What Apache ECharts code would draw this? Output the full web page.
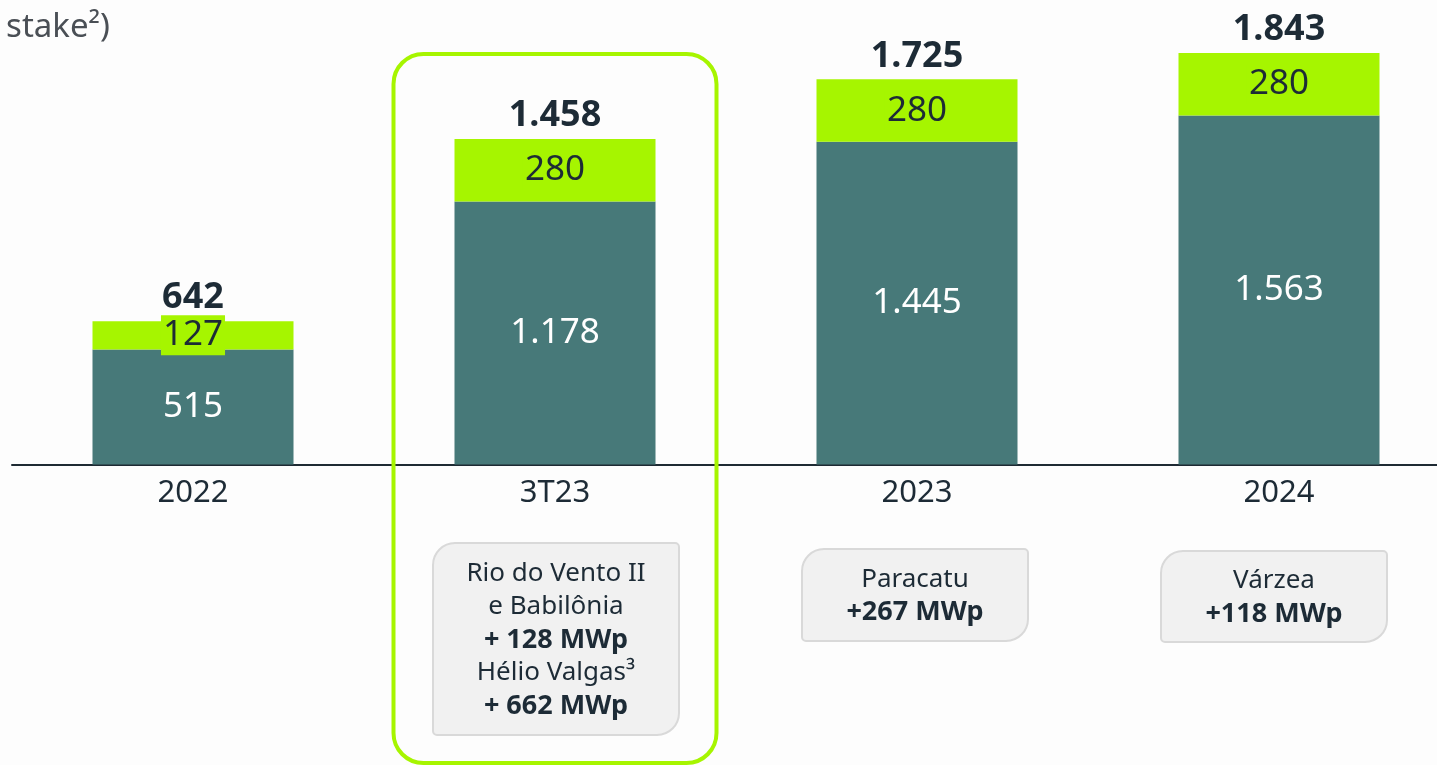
<!DOCTYPE html>
<html>
<head>
<meta charset="utf-8">
<script src="https://cdn.jsdelivr.net/npm/echarts@6/dist/echarts.min.js"></script>
<style>
html,body{margin:0;padding:0;background:#fdfdfd;}
#c{width:1437px;height:765px;}
</style>
</head>
<body>
<div id="c"></div>
<script>
// ---- data ----
const categories = ['2022', '3T23', '2023', '2024'];
const ownedValues = [515, 1178, 1445, 1563];
const stakeValues = [127, 280, 280, 280];
const annotationTitles = [null, ['Rio do Vento II', 'e Babilônia'], ['Paracatu'], ['Várzea']];
const annotationGains = [null, ['+ 128 MWp', 'Hélio Valgas³', '+ 662 MWp'], ['+267 MWp'], ['+118 MWp']];
const subtitle = '(MW proporcional ao stake²)';

const totals = ownedValues.map((v, i) => v + stakeValues[i]);
const fmt = v => String(v).replace(/\B(?=(\d{3})+(?!\d))/g, '.');

const TEAL = '#477979';
const LIME = '#a6f500';
const DARK = '#1d2b36';
const FONT = '"Noto Sans", sans-serif';

const chart = echarts.init(document.getElementById('c'), null, {renderer: 'canvas'});
chart.setOption({
  backgroundColor: '#fdfdfd',
  animation: false,
  textStyle: {fontFamily: FONT},
  grid: {left: 12, width: 1448, top: 0, height: 464.5, containLabel: false, outerBoundsMode: 'none'},
  xAxis: {
    type: 'category',
    data: categories,
    axisLine: {lineStyle: {color: '#1e2a33', width: 2}},
    axisTick: {show: false},
    axisLabel: {fontSize: 31, color: DARK, margin: 13, fontFamily: FONT}
  },
  yAxis: {type: 'value', min: 0, max: 2080, show: false, splitLine: {show: false}},
  series: [
    {
      type: 'bar', stack: 'a', barWidth: 201, data: ownedValues,
      itemStyle: {color: TEAL},
      label: {show: true, position: 'inside', color: '#ffffff', fontSize: 35, fontFamily: FONT,
        formatter: p => fmt(p.value)}
    },
    {
      type: 'bar', stack: 'a', barWidth: 201, data: stakeValues,
      itemStyle: {color: LIME},
      label: {show: true, position: 'inside', color: DARK, fontSize: 35, fontFamily: FONT,
        backgroundColor: LIME, padding: [2, 2], lineHeight: 36,
        formatter: p => fmt(p.value)}
    },
    {
      type: 'scatter', data: totals, symbolSize: 0, z: 5,
      itemStyle: {opacity: 1},
      label: {show: true, position: 'top', distance: 5, color: DARK, fontSize: 36, fontWeight: 'bold', fontFamily: FONT,
        opacity: 1, formatter: p => fmt(p.value)}
    }
  ]
});

// ---- decorations positioned from the axis scale ----
const cx = i => chart.convertToPixel({xAxisIndex: 0}, categories[i]);
const graphics = [];
graphics.push({
  type: 'text', x: 110, y: 28, z: 10,
  style: {text: subtitle, align: 'right', verticalAlign: 'middle', fontSize: 33, fontFamily: FONT, fill: '#4a4f55'}
});
// highlight frame around 3T23
graphics.push({
  type: 'rect', z: 1,
  shape: {x: cx(1) - 161.5, y: 54, width: 323, height: 709, r: 30},
  style: {fill: 'none', stroke: LIME, lineWidth: 4}
});
const boxSpecs = [null, {w: 246, top: 543, h: 192, dx: 1}, {w: 226, top: 549, h: 92, dx: -2}, {w: 226, top: 551, h: 91, dx: -5}];
for (let i = 0; i < categories.length; i++) {
  if (!annotationTitles[i]) continue;
  const s = boxSpecs[i];
  const c = cx(i) + s.dx;
  graphics.push({
    type: 'rect', z: 2,
    shape: {x: c - s.w / 2, y: s.top, width: s.w, height: s.h, r: [22, 4, 22, 4]},
    style: {fill: '#f1f1f1', stroke: '#d9d9d9', lineWidth: 2}
  });
  let lines;
  if (i === 1) {
    lines = ['{n|' + annotationTitles[i][0] + '}', '{n|' + annotationTitles[i][1] + '}',
      '{b|' + annotationGains[i][0] + '}', '{n|' + annotationGains[i][1] + '}', '{b|' + annotationGains[i][2] + '}'];
  } else {
    lines = ['{n|' + annotationTitles[i][0] + '}', '{b|' + annotationGains[i][0] + '}'];
  }
  graphics.push({
    type: 'text', z: 3,
    x: c, y: s.top + s.h / 2 + 1,
    style: {
      text: lines.join('\n'), align: 'center', verticalAlign: 'middle',
      rich: {
        n: {fontSize: 26, lineHeight: 33, fill: DARK, fontFamily: FONT, align: 'center'},
        b: {fontSize: 27, lineHeight: 33, fill: DARK, fontFamily: FONT, fontWeight: 'bold', align: 'center'}
      }
    }
  });
}
chart.setOption({graphic: graphics});
</script>
</body>
</html>
